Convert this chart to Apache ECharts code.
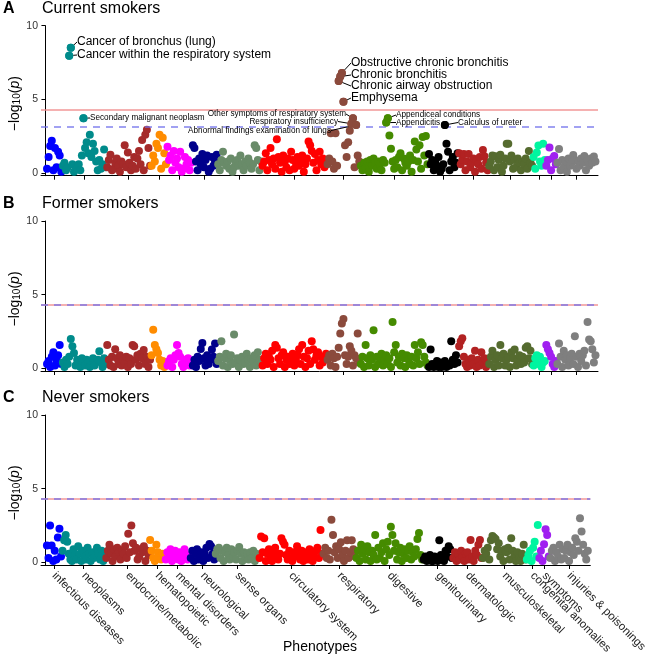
<!DOCTYPE html>
<html>
<head>
<meta charset="utf-8">
<script src="https://cdn.jsdelivr.net/npm/echarts@6/dist/echarts.min.js"></script>
<style>
  html, body { margin: 0; padding: 0; background: #fff; }
  #main { width: 650px; height: 662px; }
</style>
</head>
<body>
<div id="main"></div>
<script>
// phenotype groups, in plotting order
var categories = ['infectious diseases', 'neoplasms', 'endocrine/metabolic', 'hematopoietic',
  'mental disorders', 'neurological', 'sense organs', 'circulatory system', 'respiratory',
  'digestive', 'genitourinary', 'dermatologic', 'musculoskeletal', 'congenital anomalies',
  'symptoms', 'injuries & poisonings'];

var catColors = ['#0000FF', '#008B8B', '#A52A2A', '#FF8C00', '#FF00FF', '#00008B', '#698B69',
  '#FF0000', '#8B4A3C', '#458B00', '#000000', '#B22222', '#556B2F', '#00F5A0', '#A020F0', '#7F7F7F'];

var panelTitles = ['Current smokers', 'Former smokers', 'Never smokers'];
var panelLetters = ['A', 'B', 'C'];

// -log10(p) per phenotype, one list per group (same phenotypes in each panel)
var currentSmokers = [
  [0.3, 1.1, 1.85, 2.2, 0.2, 1.7, 0.4, 1.45, 1.2, 0.1],
  [0.5, 0.7, 0.2, 0.4, 7.97, 8.5, 0.6, 0.1, 0.5, 0.3, 0.6, 0.2, 1.2, 3.73, 1.7, 2.1, 1.35, 2.6, 1.1, 2.0, 1.5, 0.8, 0.2, 0.9, 0.3, 0.6, 1.6, 0.4],
  [0.4, 0.9, 1.25, 0.2, 0.3, 0.7, 1.0, 0.5, 0.1, 0.8, 0.6, 1.9, 0.4, 1.4, 0.7, 0.2, 0.5, 1.1, 0.3, 1.0, 1.5, 0.6, 2.25, 0.2, 2.6, 2.95, 1.7, 0.5],
  [0.5, 1.2, 0.8, 2.0, 1.7, 2.6, 0.3, 2.4, 1.35, 0.6],
  [1.8, 0.9, 1.2, 0.2, 1.5, 0.7, 1.0, 0.4, 1.45, 0.1, 0.3, 1.1, 0.6, 0.9, 0.2, 0.7],
  [1.9, 1.7, 0.8, 0.2, 1.0, 0.6, 1.3, 0.4, 0.9, 1.2, 0.1, 0.3, 1.1, 0.5, 0.8, 1.25],
  [0.6, 0.2, 0.9, 1.45, 0.7, 0.5, 0.8, 0.3, 1.0, 0.1, 0.4, 0.7, 0.9, 0.5, 1.2, 0.6, 0.2, 0.8, 0.5, 1.0, 0.7, 0.3, 0.6, 1.9, 1.7, 0.9, 0.2, 0.8],
  [0.5, 0.8, 1.35, 0.2, 0.9, 1.7, 0.6, 1.0, 0.3, 2.3, 1.1, 0.7, 0.1, 1.2, 0.8, 0.4, 1.0, 0.2, 1.45, 0.9, 0.3, 0.7, 1.1, 0.5, 0.8, 1.2, 0.1, 0.6, 1.0, 2.15, 1.9, 1.5, 0.7, 1.3, 0.2, 0.9, 1.45, 0.6, 1.0, 0.4, 0.8],
  [0.6, 1.0, 2.7, 0.8, 0.3, 2.7, 0.5, 6.25, 6.55, 6.8, 4.85, 1.9, 1.1, 2.1, 2.87, 3.35, 3.72, 0.4, 3.27, 1.2, 0.8],
  [0.5, 0.2, 0.7, 0.4, 0.8, 0.1, 0.9, 0.5, 1.0, 0.7, 0.3, 0.8, 0.6, 0.2, 0.9, 0.7, 3.43, 3.73, 2.55, 1.65, 0.8, 0.3, 0.9, 0.4, 1.1, 1.35, 0.2, 1.0, 0.7, 0.5, 0.8, 1.2, 0.1, 0.9, 2.15, 1.6, 0.8, 1.9, 0.3, 2.45, 1.2, 2.53, 0.6],
  [1.3, 0.6, 0.9, 0.2, 0.85, 0.5, 1.1, 0.1, 0.3, 0.6, 3.27, 2.0, 1.45, 0.2, 0.8, 1.1, 0.4, 0.7, 1.35],
  [1.35, 0.6, 0.9, 1.3, 0.2, 0.8, 1.3, 0.4, 0.7, 1.0, 0.1, 0.9, 0.6, 1.1, 0.3, 1.58, 1.15, 0.7, 0.2],
  [0.5, 0.8, 1.2, 0.2, 1.15, 0.4, 0.9, 1.25, 0.1, 0.5, 1.0, 2.0, 2.0, 0.8, 1.2, 0.3, 0.9, 0.4, 1.0, 0.7, 0.2, 0.8, 0.6, 1.0, 0.3, 1.5, 0.7, 0.5],
  [1.1, 0.3, 1.4, 1.87, 0.8, 0.5, 2.0, 0.9],
  [0.5, 0.9, 1.74, 0.2, 1.0, 1.17, 0.6],
  [0.7, 1.64, 0.2, 0.9, 0.4, 0.8, 0.1, 1.0, 0.5, 0.7, 1.24, 0.9, 0.3, 0.8, 0.5, 1.0, 0.7, 1.17, 0.2, 0.9, 0.5, 1.0, 0.7, 1.13, 0.8]
];

var formerSmokers = [
  [0.3, 0.5, 0.1, 0.8, 1.1, 0.2, 0.6, 0.9, 1.6, 0.3],
  [0.4, 0.1, 0.6, 0.3, 0.8, 2.0, 1.5, 1.05, 0.2, 0.6, 0.4, 0.1, 0.7, 0.5, 0.2, 0.6, 0.4, 0.1, 0.5, 0.7, 0.2, 0.4, 0.6, 1.17, 0.5, 0.1, 0.7, 0.3],
  [1.6, 0.6, 0.2, 0.8, 0.1, 1.3, 0.7, 0.3, 0.9, 0.2, 0.6, 0.4, 0.8, 0.1, 0.7, 0.3, 1.6, 1.5, 0.6, 0.9, 0.2, 1.0, 0.7, 1.25, 0.3, 0.8, 0.1, 0.6],
  [0.9, 2.63, 1.6, 1.3, 1.05, 0.6, 0.2, 0.5, 0.1, 0.3],
  [0.2, 0.5, 0.7, 0.1, 0.6, 0.9, 1.6, 1.05, 0.8, 0.3, 0.1, 0.6, 0.4, 0.7, 0.2, 0.5],
  [0.2, 0.6, 0.1, 0.8, 0.5, 1.33, 1.73, 0.7, 0.2, 0.9, 0.3, 0.6, 1.28, 0.8, 1.7, 0.3],
  [0.5, 0.8, 1.85, 0.2, 0.7, 1.0, 0.1, 0.6, 0.9, 0.3, 2.3, 0.4, 0.7, 0.1, 0.6, 0.8, 0.3, 0.4, 1.0, 0.6, 0.1, 0.7, 0.5, 0.9, 0.2, 1.1, 0.6, 0.3],
  [0.2, 0.7, 1.0, 0.3, 0.8, 0.6, 1.2, 0.1, 1.6, 1.4, 0.7, 0.3, 0.9, 1.1, 0.1, 0.6, 0.8, 0.3, 0.7, 1.0, 0.2, 0.6, 0.9, 1.3, 0.3, 1.6, 0.8, 0.1, 0.7, 1.2, 0.3, 1.85, 1.3, 0.6, 0.9, 1.1, 0.2, 0.8, 0.4, 0.7, 1.0],
  [0.6, 0.9, 0.2, 1.0, 0.7, 0.1, 0.8, 1.4, 2.37, 3.05, 3.35, 0.9, 0.3, 0.8, 1.5, 1.2, 0.2, 0.9, 0.7, 2.37, 0.4],
  [0.3, 0.8, 0.1, 1.6, 0.7, 0.2, 0.9, 0.6, 2.6, 0.1, 0.8, 0.3, 0.7, 1.0, 0.2, 0.6, 0.9, 0.3, 0.7, 0.1, 3.15, 1.1, 1.6, 0.4, 0.8, 0.2, 1.0, 0.7, 0.1, 0.9, 0.6, 0.3, 0.8, 0.2, 1.6, 0.7, 1.1, 0.3, 1.78, 1.6, 0.8, 0.4, 0.2],
  [0.1, 1.28, 0.3, 0.1, 0.2, 0.5, 0.1, 0.4, 0.1, 0.2, 0.5, 0.1, 0.3, 0.2, 1.85, 0.6, 0.3, 0.9, 0.4],
  [1.5, 1.85, 2.05, 0.8, 0.3, 0.1, 0.6, 0.2, 0.7, 0.3, 1.2, 0.1, 0.6, 0.2, 1.1, 0.4, 0.7, 0.1, 0.3],
  [0.3, 0.8, 1.2, 0.1, 0.6, 0.9, 0.2, 1.6, 0.7, 1.0, 0.2, 0.6, 0.8, 0.1, 1.1, 0.7, 1.28, 0.2, 0.6, 0.9, 0.3, 0.8, 0.4, 1.4, 1.5, 0.7, 1.2, 0.3],
  [0.2, 0.7, 0.9, 0.3, 0.8, 0.1, 0.4, 0.5],
  [1.6, 1.3, 1.05, 0.8, 0.3, 0.1, 0.5],
  [0.3, 1.7, 0.8, 0.1, 1.2, 0.6, 0.9, 0.2, 0.7, 1.0, 0.3, 2.18, 0.8, 0.1, 1.0, 0.5, 0.9, 1.2, 0.2, 3.15, 1.96, 1.85, 1.3, 0.4, 0.9]
];

var neverSmokers = [
  [1.15, 0.3, 2.5, 1.15, 0.1, 0.8, 0.2, 1.7, 2.28, 0.4],
  [0.8, 1.5, 1.87, 1.4, 0.6, 0.2, 0.1, 0.9, 0.5, 0.2, 1.1, 0.6, 0.1, 0.8, 0.4, 0.2, 1.0, 0.6, 0.1, 0.7, 0.3, 0.5, 1.0, 0.6, 0.2, 0.8, 0.1, 0.4],
  [0.3, 0.8, 1.2, 0.6, 0.1, 0.9, 0.4, 1.0, 0.7, 0.2, 0.8, 0.6, 1.1, 0.3, 1.95, 0.7, 2.5, 1.3, 0.8, 1.0, 0.2, 0.4, 0.9, 0.7, 1.1, 0.1, 0.8, 0.5],
  [1.53, 0.8, 0.3, 0.1, 1.2, 0.7, 0.4, 0.2, 0.6, 0.3],
  [0.2, 0.7, 0.4, 0.9, 0.1, 0.6, 0.8, 0.3, 0.2, 0.7, 0.1, 0.6, 0.9, 0.4, 0.2, 0.5],
  [0.3, 0.8, 0.1, 0.6, 0.9, 0.2, 0.5, 0.7, 0.1, 0.6, 1.0, 0.3, 1.26, 1.1, 0.6, 0.2],
  [0.6, 0.9, 1.0, 0.3, 0.8, 0.1, 0.7, 1.0, 0.5, 0.2, 0.9, 0.4, 0.7, 0.2, 0.8, 1.05, 0.6, 0.1, 0.7, 0.4, 0.6, 0.2, 0.7, 0.3, 0.8, 0.1, 0.6, 0.3],
  [0.3, 1.76, 0.7, 1.65, 0.1, 0.6, 0.9, 0.3, 0.1, 0.7, 1.0, 0.4, 0.2, 0.6, 1.65, 1.4, 1.2, 0.5, 0.2, 0.8, 0.3, 0.1, 0.7, 0.4, 1.1, 0.6, 0.2, 0.8, 0.1, 0.5, 0.7, 0.2, 0.9, 0.6, 0.1, 0.4, 0.8, 1.0, 0.3, 2.2, 0.6],
  [0.6, 1.0, 0.3, 0.8, 0.2, 2.9, 1.87, 0.7, 1.1, 0.3, 0.9, 1.38, 0.5, 0.1, 0.8, 1.5, 0.3, 0.7, 1.5, 0.9, 0.4],
  [0.3, 0.8, 0.1, 1.2, 0.6, 0.9, 0.2, 1.1, 0.7, 0.1, 0.8, 0.5, 1.87, 0.2, 1.0, 0.3, 0.7, 1.3, 0.1, 0.9, 1.4, 0.5, 2.43, 1.87, 0.8, 1.3, 0.2, 0.7, 1.0, 0.1, 0.6, 0.9, 0.3, 0.8, 1.1, 0.2, 0.7, 0.4, 0.9, 1.6, 2.0, 0.5, 0.2],
  [0.2, 0.4, 0.1, 0.3, 0.5, 0.1, 0.1, 0.4, 0.3, 0.1, 1.5, 0.5, 0.2, 0.1, 0.8, 0.4, 1.1, 0.9, 0.3],
  [0.3, 0.7, 0.1, 0.6, 0.2, 0.8, 0.4, 0.1, 0.6, 0.7, 0.2, 1.53, 0.4, 0.1, 0.8, 0.5, 1.2, 1.53, 0.3],
  [0.3, 0.8, 0.6, 1.0, 0.2, 1.5, 1.8, 1.7, 1.6, 0.9, 1.3, 0.4, 0.8, 0.1, 0.9, 0.7, 1.0, 0.2, 1.65, 0.8, 0.5, 0.1, 0.7, 0.3, 0.1, 0.6, 1.2, 0.2],
  [0.2, 0.5, 0.8, 0.1, 1.0, 1.4, 0.4, 2.55],
  [0.3, 0.8, 0.1, 1.24, 2.26, 1.87, 0.4],
  [0.3, 0.8, 1.0, 0.1, 0.7, 0.4, 1.2, 0.2, 0.9, 0.3, 0.8, 1.2, 0.1, 0.7, 1.0, 0.5, 1.65, 1.4, 0.8, 3.0, 2.1, 1.2, 0.6, 0.2, 0.8]
];

// significance thresholds (-log10 p): bonferroni and FDR, per panel
var bonferroni = [4.3, 4.33, 4.33];
var fdrLine = [3.15, 4.33, 4.33];

// labelled phenotypes in panel A: [name, group index, position in group]
var annotations = [
  ['Cancer of bronchus (lung)', 1, 5],
  ['Cancer within the respiratory system', 1, 4],
  ['Secondary malignant neoplasm', 1, 13],
  ['Obstructive chronic bronchitis', 8, 9],
  ['Chronic bronchitis', 8, 8],
  ['Chronic airway obstruction', 8, 7],
  ['Emphysema', 8, 10],
  ['Other symptoms of respiratory system', 8, 16],
  ['Respiratory insufficiency', 8, 15],
  ['Abnormal findings examination of lungs', 8, 18],
  ['Appendiceal conditions', 9, 17],
  ['Appendicitis', 9, 16],
  ['Calculus of ureter', 10, 10]
];

// where each label text sits (px): x, y, align, font size
var labelPlace = {
  'Cancer of bronchus (lung)': [77, 42, 'left', 12],
  'Cancer within the respiratory system': [77, 55, 'left', 12],
  'Secondary malignant neoplasm': [90, 118, 'left', 8.2],
  'Obstructive chronic bronchitis': [351, 63, 'left', 12],
  'Chronic bronchitis': [351, 75, 'left', 12],
  'Chronic airway obstruction': [351, 86, 'left', 12],
  'Emphysema': [351, 98, 'left', 12],
  'Other symptoms of respiratory system': [346, 114, 'right', 8.2],
  'Respiratory insufficiency': [338, 121.5, 'right', 8.2],
  'Abnormal findings examination of lungs': [331, 130.5, 'right', 8.2],
  'Appendiceal conditions': [396, 115, 'left', 8.2],
  'Appendicitis': [396, 122.5, 'left', 8.2],
  'Calculus of ureter': [458, 122.5, 'left', 8.2]
};

var FONT = '"Liberation Sans", Arial, sans-serif';
var panels = [currentSmokers, formerSmokers, neverSmokers];
var gridTops = [25.7, 221, 415];
var gridH = 150;
var dot = 8;

// phenotype index along x: groups one after another
var offsets = [];
var acc = 0;
currentSmokers.forEach(function(vals) { offsets.push(acc); acc += vals.length; });
var tickPos = currentSmokers.map(function(vals, c) { return offsets[c] + (vals.length + 1) / 2; });

function toPoints(panel) {
  var d = [];
  panel.forEach(function(vals, c) {
    vals.forEach(function(v, j) { d.push([offsets[c] + j + 1, v, c]); });
  });
  return d;
}

function pointColor(p) {
  return catColors[p.value[2]];
}

var grids = [], xAxes = [], yAxes = [], series = [], graphics = [];

panels.forEach(function(panel, k) {
  grids.push({ left: 41, right: 52, top: gridTops[k], height: gridH });
  xAxes.push({
    gridIndex: k, type: 'value', min: -2.8, max: 348.6,
    axisLine: { onZero: false, lineStyle: { color: '#000', width: 1 } },
    axisTick: { customValues: tickPos, length: 4, lineStyle: { color: '#000' } },
    axisLabel: {
      show: k === 2, customValues: tickPos, rotate: -45, margin: 9,
      fontFamily: FONT, fontSize: 11.5, color: '#222',
      formatter: function(v) {
        var best = 0;
        tickPos.forEach(function(t, i) { if (Math.abs(t - v) < Math.abs(tickPos[best] - v)) best = i; });
        return categories[best];
      }
    },
    splitLine: { show: false }
  });
  yAxes.push({
    gridIndex: k, type: 'value', min: -0.17, max: 10,
    axisLine: { show: true, lineStyle: { color: '#000', width: 1 } },
    axisTick: { show: true, customValues: [0, 5, 10], length: 4, lineStyle: { color: '#000' } },
    axisLabel: { customValues: [0, 5, 10], fontFamily: FONT, fontSize: 10.5, color: '#333', margin: 3 },
    splitLine: { show: false }
  });
  series.push({
    type: 'scatter', xAxisIndex: k, yAxisIndex: k, symbolSize: dot,
    data: toPoints(panel),
    itemStyle: { color: pointColor, opacity: 1 },
    markLine: {
      silent: true, symbol: ['none', 'none'], label: { show: false },
      data: [
        { yAxis: bonferroni[k], lineStyle: { color: '#F08C8C', type: 'solid', width: 1.6, opacity: 0.9 } },
        { yAxis: fdrLine[k], lineStyle: { color: 'rgba(110,110,235,0.65)', type: [7, 6], width: 2 } }
      ]
    }
  });
  graphics.push({ type: 'text', x: 3, y: gridTops[k] - 17, style: { text: panelLetters[k], font: 'bold 16px ' + FONT, fill: '#000', verticalAlign: 'middle' } });
  graphics.push({ type: 'text', x: 42, y: gridTops[k] - 17, style: { text: panelTitles[k], font: '16px ' + FONT, fill: '#000', verticalAlign: 'middle' } });
  graphics.push({
    type: 'text', x: 13, y: gridTops[k] + gridH / 2 + 3, rotation: Math.PI / 2,
    style: {
      text: '{a|\u2212log}{s|10}{a|(}{i|p}{a|)}', align: 'center', verticalAlign: 'middle', fill: '#000',
      rich: {
        a: { fontFamily: FONT, fontSize: 14, lineHeight: 18, verticalAlign: 'bottom' },
        s: { fontFamily: FONT, fontSize: 10, lineHeight: 9, verticalAlign: 'bottom' },
        i: { fontFamily: FONT, fontSize: 14, lineHeight: 18, verticalAlign: 'bottom', fontStyle: 'italic' }
      }
    }
  });
});

graphics.push({ type: 'text', x: 320, y: 647, style: { text: 'Phenotypes', font: '14px ' + FONT, fill: '#000', align: 'center', verticalAlign: 'middle' } });

// labelled points of panel A, drawn on top with leader lines
series.push({
  type: 'scatter', xAxisIndex: 0, yAxisIndex: 0, symbolSize: dot, z: 5,
  data: annotations.map(function(a) {
    return {
      name: a[0],
      value: [offsets[a[1]] + a[2] + 1, currentSmokers[a[1]][a[2]], a[1]],
      label: { fontSize: labelPlace[a[0]][3] }
    };
  }),
  itemStyle: { color: pointColor, opacity: 1 },
  label: { show: true, formatter: '{b}', color: '#000', fontFamily: FONT, position: 'right' },
  labelLine: { show: true, lineStyle: { color: '#000', width: 1 } },
  labelLayout: function(p) {
    var L = labelPlace[annotations[p.dataIndex][0]];
    return { x: L[0], y: L[1], align: L[2], verticalAlign: 'middle' };
  }
});

var myChart = echarts.init(document.getElementById('main'), null, { renderer: 'canvas' });
myChart.setOption({
  animation: false,
  backgroundColor: '#fff',
  textStyle: { fontFamily: FONT },
  grid: grids,
  xAxis: xAxes,
  yAxis: yAxes,
  series: series,
  graphic: graphics
});
</script>
</body>
</html>
